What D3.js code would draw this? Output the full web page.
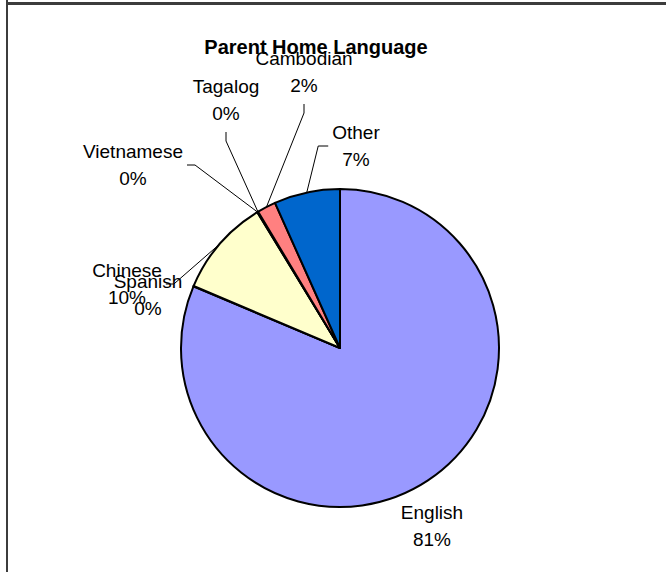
<!DOCTYPE html>
<html>
<head>
<meta charset="utf-8">
<style>
  body { margin: 0; background: #fff; }
  svg { display: block; }
  text { font-family: Arial, "Liberation Sans", sans-serif; fill: #000; }
</style>
</head>
<body>
<div id="chart"></div>
<script src="https://d3js.org/d3.v7.min.js"></script>
<script>
    // data, in the order the slices run clockwise from 12 o'clock
    var languages = ["English", "Spanish", "Chinese", "Vietnamese", "Tagalog", "Cambodian", "Other"];
    var shares = [81.3, 0.05, 9.9, 0.05, 0.05, 1.9, 6.7];
    var sliceColors = ["#9999FF", "#993366", "#FFFFCC", "#CCFFFF", "#660066", "#FF8080", "#0066CC"];
    var title = "Parent Home Language";

    // where each label sits, relative to the pie centre (first baseline, centred),
    // and which side of the label the leader line leaves from
    var labelPlace = {
        English:    { dx: 92,   dy: 171,  lead: null },
        Spanish:    { dx: -192, dy: -60,  lead: null },
        Chinese:    { dx: -213, dy: -71,  lead: "right" },
        Vietnamese: { dx: -207, dy: -190, lead: "right" },
        Tagalog:    { dx: -114, dy: -255, lead: "bottom" },
        Cambodian:  { dx: -36,  dy: -283, lead: "bottom" },
        Other:      { dx: 16,   dy: -209, lead: "left" }
    };

    var width = 666, height = 572;
    var cx = 340, cy = 348, radius = 159;

    var svg = d3.select("#chart")
        .append("svg")
        .attr("width", width)
        .attr("height", height);

    svg.append("rect")
        .attr("width", width)
        .attr("height", height)
        .attr("fill", "#fff");

    // frame of the chart area (only top and left edges show)
    svg.append("line")
        .attr("x1", 7).attr("y1", 0).attr("x2", 7).attr("y2", height)
        .attr("stroke", "#3c3c3c").attr("stroke-width", 2);
    svg.append("line")
        .attr("x1", 6).attr("y1", 3.5).attr("x2", width).attr("y2", 3.5)
        .attr("stroke", "#3c3c3c").attr("stroke-width", 3);

    svg.append("text")
        .attr("x", 316)
        .attr("y", 54)
        .attr("text-anchor", "middle")
        .style("font-size", "20px")
        .style("font-weight", "bold")
        .text(title);

    var data = languages.map(function(d, i) { return { name: d, value: shares[i] }; });
    var total = d3.sum(shares);
    var pct = d3.format(".0%");

    var color = d3.scaleOrdinal()
        .domain(languages)
        .range(sliceColors);

    var pie = d3.pie()
        .sort(null)
        .value(function(d) { return d.value; });

    var arcs = pie(data);

    var arc = d3.arc()
        .innerRadius(0)
        .outerRadius(radius);

    var rim = d3.arc()
        .innerRadius(radius)
        .outerRadius(radius);

    var g = svg.append("g")
        .attr("transform", "translate(" + cx + "," + cy + ")");

    var lines = g.append("g");

    g.append("g")
        .selectAll("path")
        .data(arcs)
        .enter()
        .append("path")
        .attr("d", arc)
        .attr("fill", function(d) { return color(d.data.name); })
        .attr("stroke", "#000")
        .attr("stroke-width", 2)
        .attr("stroke-linejoin", "round");

    var labels = g.append("g")
        .selectAll("text")
        .data(arcs)
        .enter()
        .append("text")
        .attr("text-anchor", "middle")
        .style("font-size", "19px");

    labels.append("tspan")
        .attr("x", function(d) { return labelPlace[d.data.name].dx; })
        .attr("y", function(d) { return labelPlace[d.data.name].dy; })
        .text(function(d) { return d.data.name; });

    labels.append("tspan")
        .attr("x", function(d) { return labelPlace[d.data.name].dx; })
        .attr("dy", 27)
        .text(function(d) { return pct(d.data.value / total); });

    // leader lines: label edge -> short elbow -> rim of the slice
    labels.each(function(d) {
        var side = labelPlace[d.data.name].lead;
        if (!side) return;
        var b = this.getBBox();
        var p0, p1;
        if (side === "bottom") {
            p0 = [b.x + b.width / 2, b.y + b.height + 8];
            p1 = [p0[0], p0[1] + 9];
        } else if (side === "right") {
            p0 = [b.x + b.width + 4, b.y + b.height / 2];
            p1 = [p0[0] + 8, p0[1]];
        } else {
            p0 = [b.x - 4, b.y + b.height / 2];
            p1 = [p0[0] - 10, p0[1]];
        }
        var p2 = rim.centroid(d);
        lines.append("path")
            .attr("d", d3.line()([p0, p1, p2]))
            .attr("fill", "none")
            .attr("stroke", "#000")
            .attr("stroke-width", 1);
    });
</script>
</body>
</html>
